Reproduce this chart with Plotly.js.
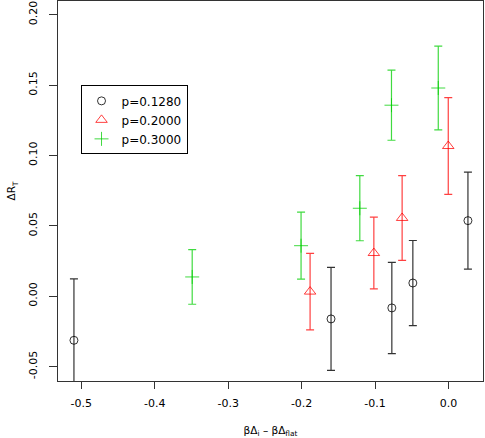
<!DOCTYPE html>
<html>
<head>
<meta charset="utf-8">
<script src="https://cdn.plot.ly/plotly-3.0.1.min.js"></script>
<style>
  body { margin: 0; background: white; }
  #plot { width: 485px; height: 438px; }
</style>
</head>
<body>
<div id="plot"></div>
<script>
// p = 0.1280 (black circles)
const xA = [-0.510, -0.160, -0.0772, -0.0486, 0.0264];
const yA = [-0.0313, -0.0161, -0.0083, 0.0094, 0.0537];
const eA = [0.0436, 0.0366, 0.0324, 0.0302, 0.0345];

// p = 0.2000 (red triangles)
const xB = [-0.1885, -0.1017, -0.0632, -0.0004];
const yB = [0.0033, 0.0307, 0.0556, 0.1067];
const eB = [0.0272, 0.0255, 0.0301, 0.0343];

// p = 0.3000 (green plus)
const xC = [-0.349, -0.2008, -0.1208, -0.0777, -0.014];
const yC = [0.0137, 0.0359, 0.0625, 0.1357, 0.1479];
const eC = [0.0194, 0.0238, 0.0231, 0.0249, 0.0298];

const names = ["p=0.1280", "p=0.2000", "p=0.3000"];
const xTicks = [-0.5, -0.4, -0.3, -0.2, -0.1, 0.0];
const xTickText = ["-0.5", "-0.4", "-0.3", "-0.2", "-0.1", "0.0"];
const yTicks = [-0.05, 0.00, 0.05, 0.10, 0.15, 0.20];
const yTickText = ["-0.05", "0.00", "0.05", "0.10", "0.15", "0.20"];

function series(x, y, e, name, color, symbol, size) {
    return {
        x: x, y: y, name: name,
        type: "scatter", mode: "markers",
        marker: {symbol: symbol, size: size, color: color, line: {color: color, width: 1}},
        error_y: {type: "data", array: e, visible: true, color: color, thickness: 1.2, width: 4}
    };
}

const data = [
    series(xA, yA, eA, names[0], "rgba(0,0,0,0.8)", "circle-open", 8),
    series(xB, yB, eB, names[1], "rgba(255,0,0,0.75)", "triangle-up-open", 10),
    series(xC, yC, eC, names[2], "rgba(0,205,0,0.75)", "cross-thin-open", 10)
];

const tickFont = {family: "DejaVu Sans", size: 11, color: "#000"};
const titleFont = {family: "DejaVu Sans", size: 10.5, color: "#000"};

const layout = {
    width: 485, height: 438,
    margin: {l: 58, r: 2, t: 1, b: 57},
    paper_bgcolor: "white", plot_bgcolor: "white",
    font: tickFont,
    showlegend: true,
    legend: {
        x: 0.053, y: 0.778, xanchor: "left", yanchor: "top",
        bgcolor: "white", bordercolor: "#000", borderwidth: 1,
        font: {family: "DejaVu Sans", size: 12, color: "#000"},
        itemwidth: 30, tracegroupgap: 0
    },
    xaxis: {
        range: [-0.5317, 0.0469],
        tickvals: xTicks, ticktext: xTickText,
        ticks: "outside", ticklen: 7, tickcolor: "#333",
        ticklabelstandoff: 5,
        showgrid: false, zeroline: false,
        showline: true, linecolor: "#333", linewidth: 1, mirror: true,
        tickfont: tickFont,
        title: {text: "βΔ<sub>i</sub> – βΔ<sub>flat</sub>", font: titleFont, standoff: 19}
    },
    yaxis: {
        range: [-0.0602, 0.2097],
        tickvals: yTicks, ticktext: yTickText,
        tickangle: -90,
        ticks: "outside", ticklen: 8, tickcolor: "#333",
        ticklabelstandoff: 8, ticklabeloverflow: "allow",
        showgrid: false, zeroline: false,
        showline: true, linecolor: "#333", linewidth: 1, mirror: true,
        tickfont: tickFont,
        title: {text: "ΔR<sub>T</sub>", font: titleFont, standoff: 8}
    }
};

Plotly.newPlot("plot", data, layout, {displayModeBar: false, staticPlot: true});
</script>
</body>
</html>
